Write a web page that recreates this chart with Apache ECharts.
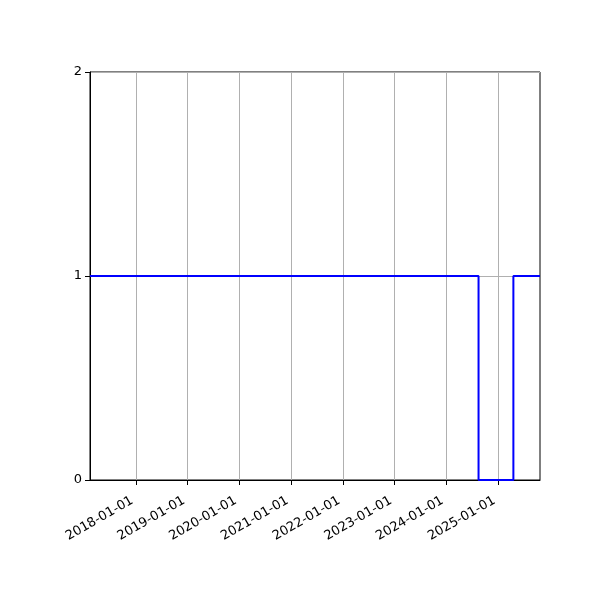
<!DOCTYPE html>
<html><head><meta charset="utf-8">
<script src="https://cdn.jsdelivr.net/npm/echarts@6/dist/echarts.min.js"></script>
<style>html,body{margin:0;padding:0;background:#fff}#c{width:600px;height:600px}</style>
</head><body><div id="c"></div>
<script>
const dates = ['2017-02-10', '2024-08-16', '2025-04-19', '2025-10-24'];
const values = [1, 0, 1, 1];
const xTickLabels = ['2018-01-01','2019-01-01','2020-01-01','2021-01-01','2022-01-01','2023-01-01','2024-01-01','2025-01-01'];
const yTicks = [0, 1, 2];
const xMin = '2017-02-10';
const xMax = '2025-10-24';

const ts = s => Date.parse(s + 'T00:00:00Z');
const tickVals = xTickLabels.map(ts);
const fmt = v => { const d = new Date(v); const p = n => String(n).padStart(2,'0'); return d.getUTCFullYear() + '-' + p(d.getUTCMonth()+1) + '-' + p(d.getUTCDate()); };
const chart = echarts.init(document.getElementById('c'), null, {renderer: 'canvas'});
chart.setOption({
  animation: false,
  grid: {left: 90, right: 60, top: 72, bottom: 120, show: true, borderColor: '#000', borderWidth: 1, backgroundColor: 'transparent'},
  xAxis: {
    type: 'value', min: ts(xMin), max: ts(xMax), scale: true,
    axisLine: {show: true, lineStyle: {color: '#000', width: 1}},
    axisTick: {show: true, inside: false, length: 5, lineStyle: {color: '#000', width: 1}, customValues: tickVals},
    axisLabel: {customValues: tickVals, rotate: 30, align: 'right', verticalAlign: 'top', padding: [0, 8, 0, 0], color: '#000', fontSize: 13, fontFamily: 'DejaVu Sans', margin: 10, formatter: fmt},
    splitLine: {show: true, lineStyle: {color: '#b0b0b0', width: 1}}
  },
  yAxis: {
    type: 'value', min: 0, max: 2, interval: 1,
    axisLine: {show: true, lineStyle: {color: '#000', width: 1}},
    axisTick: {show: true, inside: false, length: 5, lineStyle: {color: '#000', width: 1}},
    axisLabel: {color: '#000', fontSize: 13, fontFamily: 'DejaVu Sans', margin: 8, formatter: v => yTicks.includes(v) ? String(v) : ''},
    splitLine: {show: true, lineStyle: {color: '#b0b0b0', width: 1}}
  },
  series: [{
    type: 'line', step: 'end', showSymbol: false, symbol: 'none',
    lineStyle: {color: '#0000ff', width: 2},
    data: dates.map((d, i) => [ts(d), values[i]])
  }]
});
</script></body></html>
